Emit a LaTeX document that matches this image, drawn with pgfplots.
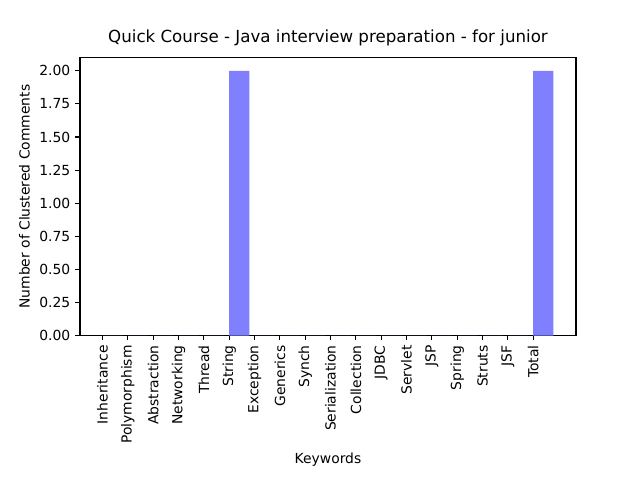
\documentclass[border=0pt]{standalone}
\usepackage{pgfplots}
\usepackage{pgfplotstable}
\pgfplotsset{compat=1.18}
\usepackage{fontspec}
\setmainfont{DejaVu Sans}
\definecolor{barblue}{HTML}{8080FF}

\pgfplotstableread{
idx count
0 0
1 0
2 0
3 0
4 0
5 2
6 0
7 0
8 0
9 0
10 0
11 0
12 0
13 0
14 0
15 0
16 0
17 2
}\keywordtable

\begin{document}
\begin{tikzpicture}
\begin{axis}[
  scale only axis,
  width=357.12pt, height=200.16pt,
  at={(0,0)}, anchor=south west,
  xmin=-0.89, xmax=18.69,
  ymin=0, ymax=2.1,
  xtick={0,...,17},
  xticklabels={Inheritance,Polymorphism,Abstraction,Networking,Thread,String,Exception,Generics,Synch,Serialization,Collection,JDBC,Servlet,JSP,Spring,Struts,JSF,Total},
  xticklabel style={rotate=90, anchor=east, font=\fontsize{10}{12}\selectfont},
  ytick={0,0.25,...,2.0},
  yticklabel style={/pgf/number format/fixed, /pgf/number format/fixed zerofill, /pgf/number format/precision=2, /pgf/number format/assume math mode=true, font=\fontsize{10}{12}\selectfont},
  tick align=outside,
  major tick length=3.5pt,
  tick style={black, line width=0.8pt},
  axis line style={line width=0.8pt},
  xtick pos=bottom, ytick pos=left,
  title={Quick Course - Java interview preparation - for junior},
  title style={font=\fontsize{12}{14}\selectfont, yshift=-1pt},
  xlabel={Keywords},
  ylabel={Number of Clustered Comments},
  label style={font=\fontsize{10}{12}\selectfont},
]
% bars sit with their left edge on the tick (matplotlib align='edge')
\addplot[ybar, bar width=0.8, bar shift=0, fill=barblue, draw=none]
  table[x expr=\thisrow{idx}+0.4, y=count] {\keywordtable};
\end{axis}
\path (-57.6pt,-103.68pt) rectangle (403.2pt,241.63pt);
\end{tikzpicture}
\end{document}
